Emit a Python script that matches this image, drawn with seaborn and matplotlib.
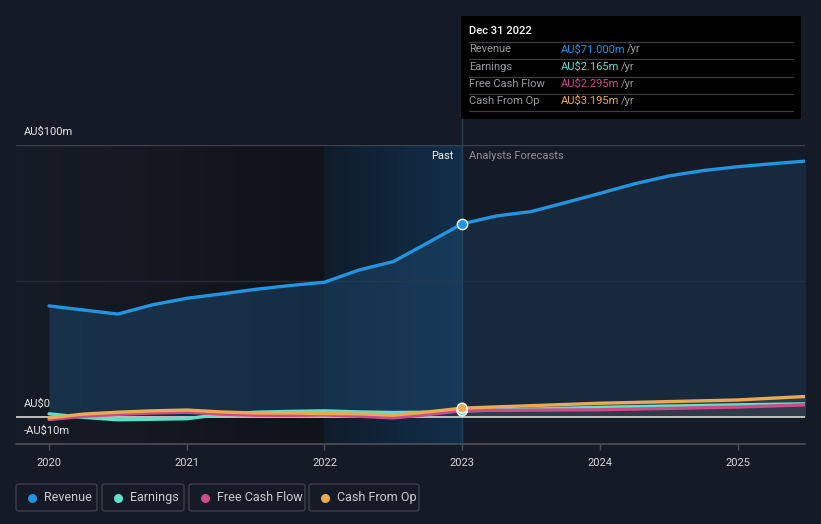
import numpy as np
import pandas as pd
import matplotlib
matplotlib.use("Agg")
import matplotlib.pyplot as plt
import seaborn as sns
from matplotlib.patches import FancyBboxPatch, Rectangle
from matplotlib.lines import Line2D
import matplotlib.transforms as mtransforms

# ---------------- data (AU$ millions) ----------------
past_years = [2020.0, 2020.25, 2020.5, 2020.75, 2021.0, 2021.25, 2021.5, 2021.75,
              2022.0, 2022.25, 2022.5, 2022.75, 2023.0]
revenue_past = [40.8, 39.3, 37.8, 41.2, 43.6, 45.2, 46.9, 48.3, 49.5, 54.0, 57.1, 64.0, 71.0]
earnings_past = [1.1, -0.2, -1.1, -0.9, -0.7, 0.9, 1.7, 2.0, 2.2, 1.8, 1.6, 1.7, 2.165]
fcf_past = [-1.0, 0.2, 0.9, 1.4, 1.7, 1.0, 0.6, 0.5, 0.7, 0.2, -0.4, 0.8, 2.295]
cfo_past = [-0.4, 1.0, 1.7, 2.2, 2.5, 1.8, 1.4, 1.4, 1.2, 1.1, 0.6, 1.8, 3.195]

rev_fc_years = [2023.0, 2023.25, 2023.5, 2023.75, 2024.0, 2024.25, 2024.5, 2024.75,
                2025.0, 2025.25, 2025.5]
revenue_fc = [71.0, 73.9, 75.5, 78.8, 82.2, 85.7, 88.6, 90.6, 92.0, 93.1, 94.1]
fc_years = [2023.0, 2024.0, 2025.0, 2025.5]
earnings_fc = [2.165, 3.5, 4.4, 4.8]
fcf_fc = [2.295, 2.6, 3.6, 4.4]
cfo_fc = [3.195, 5.0, 6.2, 7.5]

x_ticks = [2020, 2021, 2022, 2023, 2024, 2025]
x_tick_labels = ["2020", "2021", "2022", "2023", "2024", "2025"]
legend_labels = ["Revenue", "Earnings", "Free Cash Flow", "Cash From Op"]
tooltip_title = "Dec 31 2022"
tooltip_rows = ["Revenue", "Earnings", "Free Cash Flow", "Cash From Op"]
tooltip_values = ["AU$71.000m", "AU$2.165m", "AU$2.295m", "AU$3.195m"]

# ---------------- style ----------------
BG = "#151b26"
C_REV = "#2394df"
C_EARN = "#5fe0c8"
C_FCF = "#cf4a8a"
C_CFO = "#e9aa53"
colors = [C_REV, C_EARN, C_FCF, C_CFO]

sns.set_theme(style="dark")
plt.rcParams["font.family"] = ["Roboto", "DejaVu Sans"]

W, H = 821, 524
fig = plt.figure(figsize=(W / 100, H / 100), dpi=100, facecolor=BG)
ax_l, ax_r, ax_t, ax_b = 16, 805, 145, 444
ax = fig.add_axes([ax_l / W, 1 - ax_b / H, (ax_r - ax_l) / W, (ax_b - ax_t) / H])
ax.set_facecolor(BG)
XMIN, XMAX = 2019.76, 2025.49
YMIN, YMAX = -10, 100

# background regions (gradients)
def hgrad(x0, x1, c0, c1, z=0):
    c0 = np.array(matplotlib.colors.to_rgb(c0))
    c1 = np.array(matplotlib.colors.to_rgb(c1))
    t = np.linspace(0, 1, 256)[None, :, None]
    img = c0[None, None, :] * (1 - t) + c1[None, None, :] * t
    ax.imshow(img, extent=[x0, x1, YMIN, YMAX], aspect="auto", zorder=z,
              interpolation="bilinear")

hgrad(XMIN, 2022.0, "#161c27", "#0f131a")
hgrad(2022.0, 2023.0, "#0f1c2a", "#122f4a")
ax.set_xlim(XMIN, XMAX)
ax.set_ylim(YMIN, YMAX)

# grid lines
ax.axhline(100, color="#3d434d", lw=1.0, zorder=1)
ax.axhline(50, color="#262d38", lw=1.0, zorder=1)

# vertical "today" line at 2023 (extends up behind the tooltip)
vtrans = mtransforms.blended_transform_factory(ax.transData, fig.transFigure)
ax.plot([2023, 2023], [1 - ax_b / H, 1 - 16 / H], transform=vtrans,
        color="#22405a", lw=1.0, zorder=3, clip_on=False)

# revenue fills
ax.fill_between(past_years, 0, revenue_past, color="#1b4468", alpha=0.55, lw=0, zorder=2)
ax.fill_between(rev_fc_years, 0, revenue_fc, color="#1c3550", alpha=0.55, lw=0, zorder=2)
ax.fill_between(fc_years, 0, cfo_fc, color="#5a5f68", alpha=0.35, lw=0, zorder=2)

# lines
sns.lineplot(x=past_years + rev_fc_years[1:], y=revenue_past + revenue_fc[1:], ax=ax,
             color=C_REV, lw=2.4, zorder=5, estimator=None, sort=False)
for ys_p, ys_f, c in [(earnings_past, earnings_fc, C_EARN),
                      (fcf_past, fcf_fc, C_FCF),
                      (cfo_past, cfo_fc, C_CFO)]:
    sns.lineplot(x=past_years + fc_years[1:], y=ys_p + ys_f[1:], ax=ax,
                 color=c, lw=2.4, zorder=5, estimator=None, sort=False)

ax.axhline(0, color="#d8d8d8", lw=1.2, zorder=4)

# markers at 2023
sns.scatterplot(x=[2023.0], y=[revenue_past[-1]], ax=ax, color=C_REV, s=55,
                edgecolor="white", linewidth=1.0, zorder=7)
sns.scatterplot(x=[2023.0, 2023.0, 2023.0],
                y=[fcf_past[-1], earnings_past[-1], cfo_past[-1]], ax=ax,
                hue=["f", "e", "c"], palette=[C_FCF, C_EARN, C_CFO], s=50,
                edgecolor="white", linewidth=1.0, zorder=7, legend=False)

# axes decorations
for s in ax.spines.values():
    s.set_visible(False)
ax.axhline(YMIN, color="#4a4f58", lw=1.2, zorder=4, clip_on=False)
ax.set_xticks(x_ticks)
ax.set_xticklabels(x_tick_labels, color="#d4d6da", fontsize=8)
ax.tick_params(axis="x", length=4, width=1, color="#4a4f58", pad=6, bottom=True)
ax.set_yticks([])
ax.grid(False)
ax.set_xlabel("")
ax.set_ylabel("")

ytr = mtransforms.blended_transform_factory(ax.transAxes, ax.transData)
for val, lab in [(100, "AU$100m"), (0, "AU$0"), (-10, "-AU$10m")]:
    ax.annotate(lab, xy=(0.01, val), xycoords=ytr, xytext=(0, 6), textcoords="offset points",
                color="#e6e6e6", fontsize=8, va="bottom", ha="left", zorder=8)

# Past / Analysts Forecasts
def fpx(x, y):
    return x / W, 1 - y / H

fig.text(*fpx(453, 156), "Past", color="#eeeeee", fontsize=8, ha="right", va="center")
fig.text(*fpx(469, 156), "Analysts Forecasts", color="#8b9099", fontsize=8,
         ha="left", va="center")

# tooltip
fig.add_artist(Rectangle(fpx(461, 119), 340 / W, 103 / H, transform=fig.transFigure,
                         facecolor="#000000", edgecolor="none", zorder=10))
fig.text(*fpx(469, 31), tooltip_title, color="#ffffff", fontsize=8, fontweight="medium",
         ha="left", va="center", zorder=11)
for yy in [41.5, 58.5, 76.5, 93.5, 111]:
    fig.add_artist(Line2D([469 / W, 793 / W], [1 - yy / H] * 2, transform=fig.transFigure,
                          color="#3a3d42", lw=0.9, zorder=11))
row_y = [49.5, 66.5, 84, 101]
slash_x = [627, 621, 621, 621]
for lab, val, c, yy, sx in zip(tooltip_rows, tooltip_values, colors, row_y, slash_x):
    fig.text(*fpx(469, yy), lab, color="#9a9ca0", fontsize=8, ha="left", va="center", zorder=11)
    fig.text(*fpx(561, yy), val, color=c, fontsize=8, ha="left", va="center", zorder=11)
    fig.text(*fpx(sx, yy), "/yr", color="#9a9ca0", fontsize=8, ha="left", va="center", zorder=11)

# legend
boxes = [(16, 97), (102, 184), (189, 305), (309, 419)]
dots = [32, 118, 205, 325]
txts = [44, 130, 217, 337]
for (x0, x1), dx, tx, lab, c in zip(boxes, dots, txts, legend_labels, colors):
    fig.add_artist(FancyBboxPatch(fpx(x0, 511), (x1 - x0) / W, 27 / H,
                                  boxstyle="round,pad=0,rounding_size=0.004",
                                  transform=fig.transFigure, facecolor="none",
                                  edgecolor="#3b404a", lw=1.0))
    fig.add_artist(Line2D([dx / W], [1 - 497.5 / H], marker="o", markersize=6.5,
                          color=c, markeredgewidth=0, transform=fig.transFigure))
    fig.text(*fpx(tx, 497.5), lab, color="#c9ccd1", fontsize=9, ha="left", va="center")

fig.savefig("out.png", dpi=100, facecolor=BG)
